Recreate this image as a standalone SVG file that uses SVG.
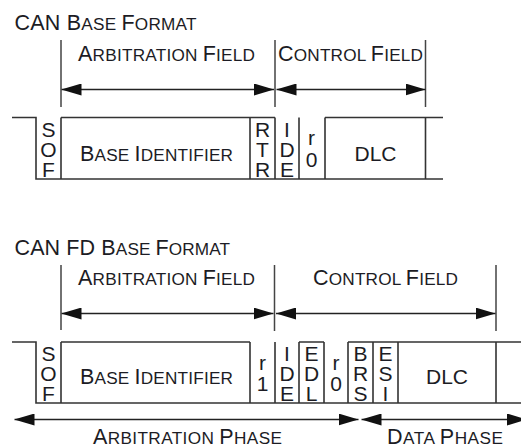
<svg xmlns="http://www.w3.org/2000/svg" width="521" height="446" viewBox="0 0 521 446">
<defs>
<marker id="ah" markerUnits="userSpaceOnUse" markerWidth="20" markerHeight="12" refX="20" refY="6" orient="auto-start-reverse" viewBox="0 0 20 12">
<path d="M0,0 L20,6 L0,12 Z" fill="#111"/>
</marker>
</defs>
<style>
text{font-family:"Liberation Sans",Arial,sans-serif;fill:#1c1c24;}
.t{font-size:21.5px;}
.sc{font-size:17.2px;}
.b{font-size:21px;text-anchor:middle;}
.frame{fill:none;stroke:#333;stroke-width:1.6;}
.mark{fill:none;stroke:#444;stroke-width:1.5;}
.arr{fill:none;stroke:#222;stroke-width:1.5;marker-start:url(#ah);marker-end:url(#ah);}
</style>
<rect width="521" height="446" fill="#fff"/>

<g id="title-base">
<text class="t" x="14.5" y="30" textLength="182" lengthAdjust="spacing">CAN B<tspan class="sc">ASE </tspan>F<tspan class="sc">ORMAT</tspan></text>
</g>
<g id="title-fd">
<text class="t" x="14.5" y="255" textLength="215.5" lengthAdjust="spacing">CAN FD B<tspan class="sc">ASE </tspan>F<tspan class="sc">ORMAT</tspan></text>
</g>

<g id="base-labels">
<text class="t" x="78" y="60.5" textLength="177" lengthAdjust="spacing">A<tspan class="sc">RBITRATION </tspan>F<tspan class="sc">IELD</tspan></text>
<text class="t" x="278" y="60.5" textLength="145" lengthAdjust="spacing">C<tspan class="sc">ONTROL </tspan>F<tspan class="sc">IELD</tspan></text>
</g>
<g id="fd-labels">
<text class="t" x="78" y="285" textLength="177" lengthAdjust="spacing">A<tspan class="sc">RBITRATION </tspan>F<tspan class="sc">IELD</tspan></text>
<text class="t" x="313" y="284.5" textLength="145" lengthAdjust="spacing">C<tspan class="sc">ONTROL </tspan>F<tspan class="sc">IELD</tspan></text>
<text class="t" x="93" y="443.5" textLength="189" lengthAdjust="spacing">A<tspan class="sc">RBITRATION </tspan>P<tspan class="sc">HASE</tspan></text>
<text class="t" x="387" y="443.5" textLength="116" lengthAdjust="spacing">D<tspan class="sc">ATA </tspan>P<tspan class="sc">HASE</tspan></text>
</g>

<g id="base-frame">
<path class="frame" d="M12,117.5 H36 V179 H443 M61,117.5 H275 M325,117.5 H443 M61,117.5 V179 M250,117.5 V179 M275,117.5 V179 M299,117.5 V179 M325,117.5 V179 M425.5,117.5 V179"/>
</g>
<g id="base-sof"><text class="b" x="48.5" y="136.7">S</text><text class="b" x="48.5" y="156.7">O</text><text class="b" x="48.5" y="176.7">F</text></g>
<g id="base-id"><text class="t" x="80" y="160.5" textLength="153" lengthAdjust="spacing">B<tspan class="sc">ASE </tspan>I<tspan class="sc">DENTIFIER</tspan></text></g>
<g id="base-rtr"><text class="b" x="262.5" y="136.7">R</text><text class="b" x="262.5" y="156.7">T</text><text class="b" x="262.5" y="176.7">R</text></g>
<g id="base-ide"><text class="b" x="287" y="136.7">I</text><text class="b" x="287" y="156.7">D</text><text class="b" x="287" y="176.7">E</text></g>
<g id="base-r0"><text class="b" x="311.5" y="145">r</text><text class="b" x="311.5" y="166.7">0</text></g>
<g id="base-dlc"><text class="b" x="375.5" y="160.5">DLC</text></g>

<g id="fd-frame">
<path class="frame" d="M12,342 H36 V403 H521 M61,342 H250 M299,342 H324 M348,342 H521 M61,342 V403 M250,342 V403 M275,342 V403 M299,342 V403 M324,342 V403 M348,342 V403 M373,342 V403 M398,342 V403 M496,342 V403"/>
</g>
<g id="fd-sof"><text class="b" x="48.5" y="361.4">S</text><text class="b" x="48.5" y="381.4">O</text><text class="b" x="48.5" y="401">F</text></g>
<g id="fd-id"><text class="t" x="80" y="384" textLength="153" lengthAdjust="spacing">B<tspan class="sc">ASE </tspan>I<tspan class="sc">DENTIFIER</tspan></text></g>
<g id="fd-r1"><text class="b" x="262.5" y="369.5">r</text><text class="b" x="262.5" y="390.5">1</text></g>
<g id="fd-ide"><text class="b" x="287" y="361.4">I</text><text class="b" x="287" y="381.4">D</text><text class="b" x="287" y="401">E</text></g>
<g id="fd-edl"><text class="b" x="311.5" y="361.4">E</text><text class="b" x="311.5" y="381.4">D</text><text class="b" x="311.5" y="401">L</text></g>
<g id="fd-r0"><text class="b" x="336" y="369.5">r</text><text class="b" x="336" y="390.5">0</text></g>
<g id="fd-brs"><text class="b" x="360.5" y="361.4">B</text><text class="b" x="360.5" y="381.4">R</text><text class="b" x="360.5" y="401">S</text></g>
<g id="fd-esi"><text class="b" x="385.5" y="361.4">E</text><text class="b" x="385.5" y="381.4">S</text><text class="b" x="385.5" y="401">I</text></g>
<g id="fd-dlc"><text class="b" x="447" y="384">DLC</text></g>

<g id="connectors">
<path class="mark" d="M61,40 V107 M275,40 V107 M425.5,40 V107 M61,265 V330 M274.5,265 V331 M496,265 V331"/>
<line class="arr" x1="61.5" y1="89.5" x2="274" y2="89.5"/>
<line class="arr" x1="276.5" y1="89.5" x2="425.5" y2="89.5"/>
<line class="arr" x1="61.5" y1="313.5" x2="273.5" y2="313.5"/>
<line class="arr" x1="276" y1="313.5" x2="495.5" y2="313.5"/>
<line class="arr" x1="14.5" y1="419.5" x2="358.5" y2="419.5"/>
<line class="arr" x1="361.5" y1="419.5" x2="527" y2="419.5"/>
</g>
</svg>
